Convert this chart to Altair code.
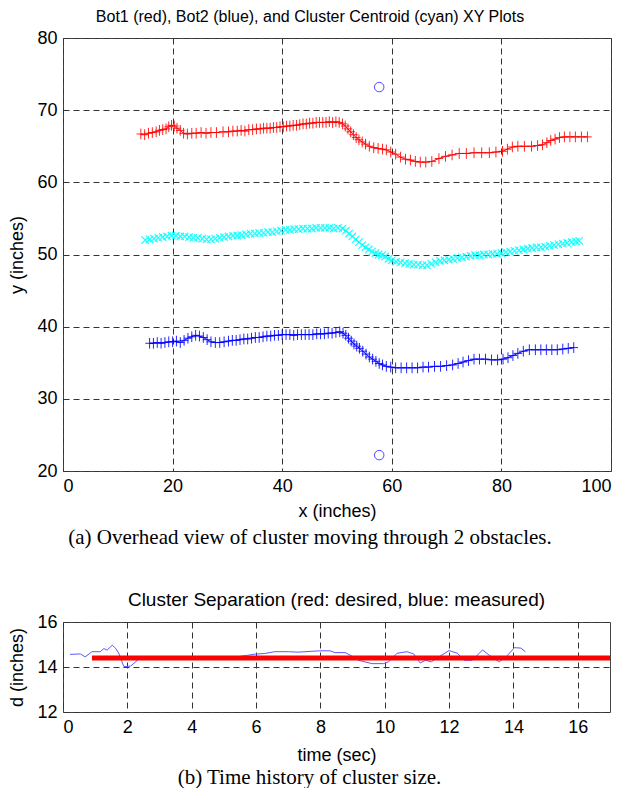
import altair as alt
import pandas as pd

# ---------------- Top panel data (x, y in inches) ----------------
bot1_x = [14.2, 14.9, 15.6, 16.3, 17.0, 17.6, 18.2, 18.8, 19.3, 19.8, 20.3, 20.8, 21.4, 22.0, 22.7,
          23.5, 24.3, 25.2, 26.1, 27.0, 28.0, 29.2, 30.2, 31.0, 31.8, 32.5, 33.2, 33.9, 34.6, 35.3,
          36.0, 36.6, 37.2, 37.8, 38.4, 39.0, 39.6, 40.2, 40.8, 41.4, 42.0, 42.6, 43.2, 43.8, 44.4,
          45.0, 45.6, 46.2, 46.8, 47.4, 48.0, 48.6, 49.2, 49.8, 50.4, 51.0, 51.5, 52.0, 52.5, 53.0,
          53.5, 54.0, 54.6, 55.2, 55.9, 56.7, 57.5, 58.3, 59.0, 59.8, 60.7, 61.6, 62.5, 63.4, 64.3,
          65.2, 66.2, 67.3, 68.6, 69.8, 71.0, 72.3, 73.6, 75.0, 76.4, 77.8, 79.0, 80.2, 81.1, 82.0,
          83.0, 84.2, 85.5, 86.6, 87.5, 88.3, 89.0, 89.8, 90.6, 91.5, 92.5, 93.5, 94.6, 95.7]
bot1_y = [66.7, 66.6, 66.8, 66.9, 67.0, 67.2, 67.3, 67.4, 67.7, 67.9, 67.8, 67.5, 67.2, 66.8, 66.7,
          66.8, 66.8, 66.9, 66.8, 66.9, 66.9, 67.0, 67.0, 67.1, 67.1, 67.2, 67.1, 67.3, 67.3, 67.4,
          67.4, 67.5, 67.5, 67.5, 67.6, 67.6, 67.7, 67.7, 67.8, 67.8, 67.9, 67.9, 68.0, 68.1, 68.1,
          68.2, 68.2, 68.3, 68.3, 68.3, 68.3, 68.4, 68.3, 68.4, 68.3, 68.1, 67.8, 67.4, 67.0, 66.6,
          66.2, 65.9, 65.6, 65.3, 65.0, 64.8, 64.7, 64.6, 64.5, 64.2, 63.9, 63.5, 63.2, 63.1, 62.9,
          62.8, 62.8, 62.9, 63.3, 63.6, 63.8, 64.0, 64.0, 64.1, 64.1, 64.1, 64.2, 64.3, 64.6, 64.9,
          65.0, 65.0, 65.0, 65.1, 65.2, 65.5, 65.8, 66.0, 66.2, 66.3, 66.3, 66.3, 66.3, 66.3]

centroid_x = [15.0, 15.8, 16.6, 17.4, 18.2, 19.0, 19.8, 20.6, 21.4, 22.2, 23.0, 23.8, 24.6, 25.4, 26.2,
              27.0, 27.8, 28.6, 29.4, 30.2, 31.0, 31.8, 32.6, 33.4, 34.2, 35.0, 35.8, 36.6, 37.4, 38.2,
              39.0, 39.8, 40.6, 41.4, 42.2, 43.0, 43.8, 44.6, 45.4, 46.2, 47.0, 47.8, 48.6, 49.4, 50.2,
              51.0, 51.6, 52.2, 52.8, 53.4, 54.0, 54.6, 55.2, 55.8, 56.4, 57.0, 57.6, 58.2, 58.8, 59.4,
              60.0, 60.8, 61.6, 62.4, 63.2, 64.0, 64.8, 65.6, 66.4, 67.2, 68.0, 68.8, 69.6, 70.4, 71.2,
              72.0, 72.8, 73.6, 74.4, 75.2, 76.0, 76.8, 77.6, 78.4, 79.2, 80.0, 80.8, 81.6, 82.4, 83.2,
              84.0, 84.8, 85.6, 86.4, 87.2, 88.0, 88.8, 89.6, 90.4, 91.2, 92.0, 92.8, 93.6, 94.2]
centroid_y = [52.0, 52.1, 52.2, 52.3, 52.4, 52.5, 52.6, 52.6, 52.5, 52.5, 52.4, 52.3, 52.3, 52.2, 52.1,
              52.1, 52.2, 52.3, 52.4, 52.5, 52.6, 52.6, 52.7, 52.8, 52.9, 52.9, 53.0, 53.0, 53.1, 53.1,
              53.2, 53.3, 53.4, 53.4, 53.5, 53.5, 53.6, 53.6, 53.6, 53.7, 53.7, 53.7, 53.7, 53.6, 53.7,
              53.6, 53.3, 52.9, 52.5, 52.1, 51.7, 51.3, 51.0, 50.7, 50.4, 50.2, 50.0, 49.9, 49.7, 49.4,
              49.2, 49.0, 48.9, 48.8, 48.7, 48.6, 48.6, 48.5, 48.5, 48.7, 48.9, 49.1, 49.2, 49.3, 49.4,
              49.5, 49.6, 49.7, 49.8, 49.9, 49.9, 50.0, 50.0, 50.1, 50.1, 50.2, 50.3, 50.4, 50.5, 50.6,
              50.7, 50.8, 50.9, 51.0, 51.0, 51.1, 51.2, 51.3, 51.4, 51.5, 51.6, 51.7, 51.8, 51.9]

bot2_x = [15.8, 16.5, 17.2, 17.9, 18.6, 19.3, 20.0, 20.7, 21.4, 22.1, 22.8, 23.5, 24.2, 24.9, 25.6,
          26.3, 27.0, 27.8, 28.6, 29.4, 30.2, 30.9, 31.6, 32.3, 33.0, 33.7, 34.4, 35.1, 35.8, 36.5,
          37.2, 37.9, 38.6, 39.3, 40.0, 40.7, 41.4, 42.1, 42.8, 43.5, 44.2, 44.9, 45.6, 46.3, 47.0,
          47.7, 48.4, 49.1, 49.8, 50.5, 51.1, 51.6, 52.1, 52.6, 53.1, 53.6, 54.1, 54.7, 55.3, 55.9,
          56.5, 57.1, 57.7, 58.3, 59.0, 59.8, 60.7, 61.7, 62.7, 63.7, 64.7, 65.7, 66.7, 67.8, 68.9,
          70.0, 71.1, 72.1, 73.0, 74.0, 75.0, 76.0, 77.1, 78.2, 79.3, 80.3, 81.2, 82.1, 83.0, 84.0,
          85.1, 86.2, 87.2, 88.2, 89.2, 90.2, 91.2, 92.2, 93.2]
bot2_y = [37.7, 37.7, 37.8, 37.7, 37.8, 37.9, 37.9, 38.0, 37.8, 38.1, 38.4, 38.6, 38.8, 38.7, 38.5,
          38.2, 37.9, 37.8, 37.8, 37.9, 38.0, 38.1, 38.1, 38.2, 38.3, 38.3, 38.4, 38.5, 38.5, 38.6,
          38.7, 38.7, 38.8, 38.8, 38.9, 38.9, 38.9, 38.8, 38.9, 38.9, 38.9, 38.9, 38.9, 39.0, 39.0,
          39.0, 39.1, 39.1, 39.2, 39.3, 39.1, 38.8, 38.4, 38.0, 37.6, 37.3, 37.0, 36.6, 36.2, 35.8,
          35.5, 35.2, 34.9, 34.7, 34.5, 34.4, 34.3, 34.3, 34.3, 34.3, 34.3, 34.4, 34.4, 34.5, 34.5,
          34.6, 34.7, 34.9, 35.1, 35.3, 35.5, 35.5, 35.5, 35.4, 35.4, 35.5, 35.7, 36.0, 36.3, 36.6,
          36.8, 36.8, 36.8, 36.8, 36.8, 36.8, 36.9, 37.0, 37.1]

obstacle_x = [57.7, 57.7]
obstacle_y = [73.2, 22.2]

# ---------------- Bottom panel data ----------------
time_measured = [0.22, 0.54, 0.69, 0.90, 1.16, 1.27, 1.37, 1.53, 1.63, 1.73, 1.89, 2.10, 2.36, 2.60,
                 3.50, 4.50, 5.40, 5.74, 5.95, 6.27, 6.58, 7.00, 7.30, 7.98, 8.30, 8.45, 8.77, 8.92,
                 9.18, 9.60, 9.96, 10.12, 10.38, 10.69, 10.90, 11.10, 11.27, 11.45, 11.68, 12.00,
                 12.26, 12.46, 12.72, 13.04, 13.24, 13.56, 13.77, 14.03, 14.23, 14.37]
d_measured = [14.56, 14.58, 14.45, 14.68, 14.68, 14.82, 14.75, 14.97, 14.84, 14.62, 14.02, 14.04,
              14.35, 14.42, 14.40, 14.43, 14.45, 14.52, 14.57, 14.60, 14.68, 14.68, 14.66, 14.72,
              14.72, 14.64, 14.64, 14.53, 14.30, 14.15, 14.15, 14.23, 14.61, 14.68, 14.58, 14.18,
              14.30, 14.23, 14.45, 14.73, 14.61, 14.30, 14.30, 14.76, 14.53, 14.23, 14.45, 14.86,
              14.84, 14.68]
time_desired = [0.9, 17.0]
d_desired = [14.4, 14.4]

TITLE_TOP = "Bot1 (red), Bot2 (blue), and Cluster Centroid (cyan) XY Plots"
TITLE_BOTTOM = "Cluster Separation (red: desired, blue: measured)"
CAPTION_A = "(a) Overhead view of cluster moving through 2 obstacles."
CAPTION_B = "(b) Time history of cluster size."

PLUS = "M-0.8,0L0.8,0M0,-1L0,1"
XMARK = "M-1,-1L1,1M-1,1L1,-1"
SANS = "Liberation Sans"
SERIF = "Liberation Serif"

bot1 = pd.DataFrame({"x": bot1_x, "y": bot1_y, "i": range(len(bot1_x))})
bot2 = pd.DataFrame({"x": bot2_x, "y": bot2_y, "i": range(len(bot2_x))})
cent = pd.DataFrame({"x": centroid_x, "y": centroid_y})
obst = pd.DataFrame({"x": obstacle_x, "y": obstacle_y})

xs = alt.Scale(domain=[0, 100], nice=False, zero=False)
ys = alt.Scale(domain=[20, 80], nice=False, zero=False)
xax = alt.Axis(values=[0, 20, 40, 60, 80, 100], title="x (inches)", titlePadding=7)
yax = alt.Axis(values=[20, 30, 40, 50, 60, 70, 80], title="y (inches)")

def xy(df):
    return alt.Chart(df)

red_line = xy(bot1).mark_line(color="#ff0000", strokeWidth=1).encode(
    x=alt.X("x:Q", scale=xs, axis=xax), y=alt.Y("y:Q", scale=ys, axis=yax), order="i:Q")
red_pts = xy(bot1).mark_point(shape=PLUS, filled=False, color="#ff0000", size=115,
                              strokeWidth=1, opacity=0.85).encode(
    x=alt.X("x:Q", scale=xs), y=alt.Y("y:Q", scale=ys))
cyan_pts = xy(cent).mark_point(shape=XMARK, filled=False, color="#00ffff", size=55,
                               strokeWidth=1.2, opacity=0.9).encode(
    x=alt.X("x:Q", scale=xs), y=alt.Y("y:Q", scale=ys))
blue_line = xy(bot2).mark_line(color="#0000ff", strokeWidth=1).encode(
    x=alt.X("x:Q", scale=xs), y=alt.Y("y:Q", scale=ys), order="i:Q")
blue_pts = xy(bot2).mark_point(shape=PLUS, filled=False, color="#0000ff", size=115,
                               strokeWidth=1, opacity=0.85).encode(
    x=alt.X("x:Q", scale=xs), y=alt.Y("y:Q", scale=ys))
obst_pts = xy(obst).mark_point(shape="circle", filled=False, color="#0000ff", size=90,
                               strokeWidth=1).encode(
    x=alt.X("x:Q", scale=xs), y=alt.Y("y:Q", scale=ys))

top = alt.layer(red_line, red_pts, cyan_pts, blue_line, blue_pts, obst_pts).properties(
    width=548, height=433,
    title=alt.TitleParams(TITLE_TOP, font=SANS, fontSize=16, fontWeight="normal",
                          color="#000", offset=4, anchor="middle", frame="bounds"))

top_group = alt.vconcat(top, title=alt.TitleParams(
    CAPTION_A, orient="bottom", font=SERIF, fontSize=21, fontWeight="normal",
    color="#000", offset=6, anchor="middle"))

meas = pd.DataFrame({"t": time_measured, "d": d_measured, "i": range(len(time_measured))})
des = pd.DataFrame({"t": time_desired, "d": d_desired})
ts = alt.Scale(domain=[0, 17], nice=False, zero=False)
ds = alt.Scale(domain=[12, 16], nice=False, zero=False)

meas_line = alt.Chart(meas).mark_line(color="#5a5aff", strokeWidth=1).encode(
    x=alt.X("t:Q", scale=ts, axis=alt.Axis(values=list(range(0, 17, 2)), title="time (sec)")),
    y=alt.Y("d:Q", scale=ds, axis=alt.Axis(values=[12, 14, 16], title="d (inches)")),
    order="i:Q")
des_line = alt.Chart(des).mark_line(color="#ff0000", strokeWidth=5, clip=True).encode(
    x=alt.X("t:Q", scale=ts), y=alt.Y("d:Q", scale=ds))

bottom = alt.layer(meas_line, des_line).properties(
    width=547, height=90,
    title=alt.TitleParams(TITLE_BOTTOM, font=SANS, fontSize=19, fontWeight="normal",
                          color="#000", offset=3, anchor="middle"))

bottom_group = alt.vconcat(bottom, title=alt.TitleParams(
    CAPTION_B, orient="bottom", font=SERIF, fontSize=21, fontWeight="normal",
    color="#000", offset=2, anchor="middle"))

chart = alt.vconcat(top_group, bottom_group, spacing=42).properties(
    padding={"left": 0, "top": 0, "right": 5, "bottom": 0}
).configure_view(
    stroke="#444", strokeWidth=1
).configure_axis(
    grid=True, gridDash=[6, 4], gridColor="#333", gridOpacity=1, gridWidth=1,
    ticks=False, domain=False,
    labelFont=SANS, labelFontSize=18, labelColor="#000", labelPadding=6,
    titleFont=SANS, titleFontSize=18, titleFontWeight="normal", titleColor="#000",
    titlePadding=10
)

chart.save("out.html", embed_options={"renderer": "svg", "actions": False})
